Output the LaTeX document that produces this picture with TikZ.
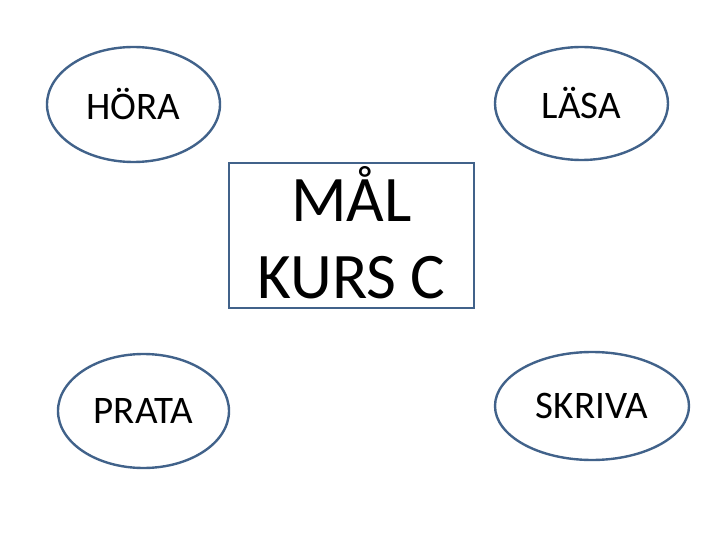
\documentclass[tikz,border=0pt]{standalone}
\usepackage{fontspec}
\setmainfont{Carlito}
\usetikzlibrary{shapes.geometric}
\definecolor{outline}{HTML}{41628A}
\tikzstyle{skill}=[ellipse, draw=outline, line width=2.4pt, inner sep=0pt,
  font=\fontsize{39}{44}\selectfont]
\tikzstyle{goal}=[rectangle, draw=outline, line width=2.4pt, inner sep=0pt,
  align=center, font=\fontsize{65}{77}\selectfont]

\begin{document}
\begin{tikzpicture}[x=1pt, y=-1pt]
          \useasboundingbox (0, 0) rectangle (720, 540);
          \node[skill, minimum width=173, minimum height=115]
            (hora) at (133.5, 104.5) {HÖRA};
          \node[skill, minimum width=173, minimum height=113]
            (lasa) at (581.5, 103.5) {LÄSA};
          \node[skill, minimum width=171, minimum height=114]
            (prata) at (143.5, 411) {PRATA};
          \node[skill, minimum width=194, minimum height=108]
            (skriva) at (592, 406) {SKRIVA};
          \node[goal, minimum width=245, minimum height=145]
            (mal) at (351.5, 235.5) {};
          \node[goal, draw=none, yshift=3pt]
            (maltext) at (mal) {MÅL\\KURS C};
        \end{tikzpicture}
\end{document}
